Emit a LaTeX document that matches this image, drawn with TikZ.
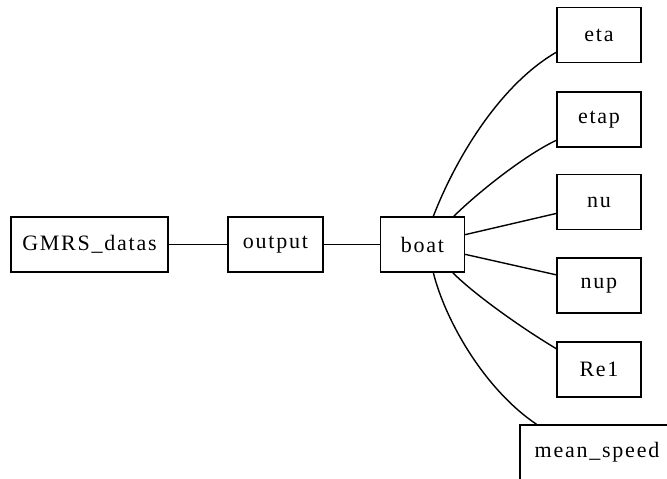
\documentclass[tikz,border=0pt]{standalone}
\usepackage{fontspec}
\setmainfont{Liberation Serif}[LetterSpace=8]
\usepackage{tikz}
\usetikzlibrary{positioning}

\tikzset{
  var/.style={draw,line width=1.4pt,minimum width=84pt,minimum height=55pt,
    inner xsep=8pt,font=\fontsize{22}{26}\selectfont},
  link/.style={line width=1.4pt}
}

\begin{document}
\begin{tikzpicture}[x=1pt,y=-1pt]
  \clip (0,0) rectangle (667,479);
  % chain
  \node[var,minimum width=157pt] (gmrs) at (89.5,244.5) {GMRS\_datas};
  \node[var,minimum width=95pt] (output) at (275.5,244.5) {output};
  \node[var] (boat) at (422.5,244.5) {boat};
  % fields of boat
  \node[var] (eta) at (599,35) {eta};
  \node[var] (etap) at (599,119.5) {etap};
  \node[var] (nu) at (599,202) {nu};
  \node[var] (nup) at (599,285.5) {nup};
  \node[var] (re) at (599,369.5) {Re1};
  \node[var,minimum width=154pt] (speed) at (597,452.5) {mean\_speed};
  % links
  \draw[link] (gmrs) -- (output);
  \draw[link] (output) -- (boat);
  \draw[link] (boat.69) .. controls +(22,-57) and +(-57,33) .. (eta.202);
  \draw[link] (boat.42) .. controls +(22,-22) and +(-32,15) .. (etap.206);
  \draw[link] (boat.13) -- (nu.195);
  \draw[link] (boat.-13) -- (nup.166);
  \draw[link] (boat.-43) .. controls +(23,23) and +(-32,-19) .. (re.154);
  \draw[link] (boat.-69) .. controls +(12,48) and +(-52,-35) .. (speed.155);
\end{tikzpicture}
\end{document}
